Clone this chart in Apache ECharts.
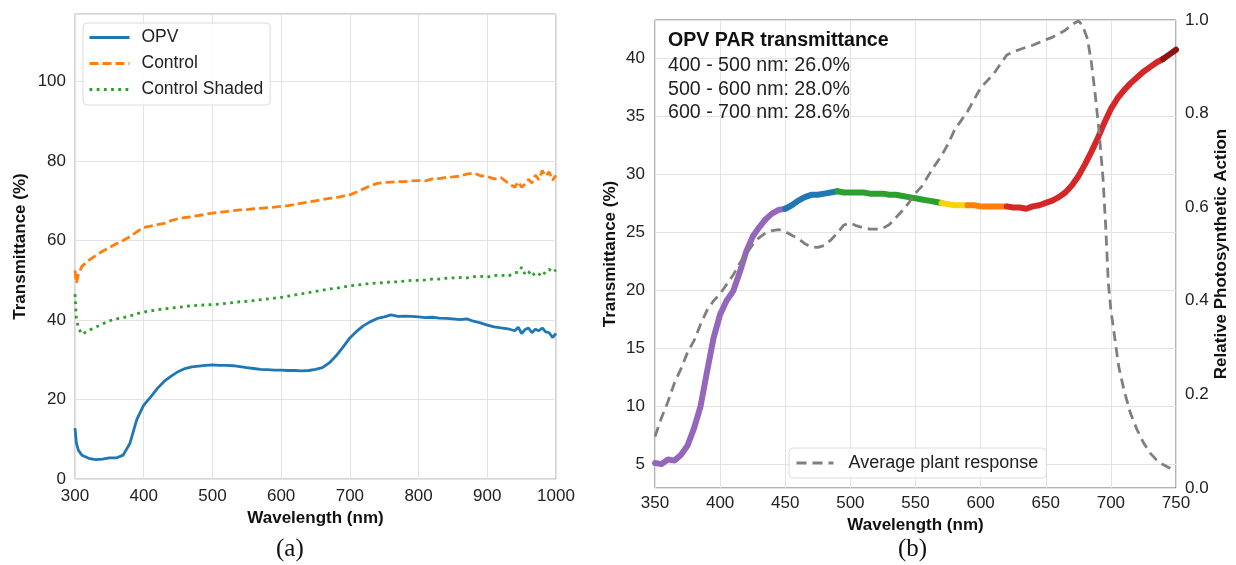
<!DOCTYPE html>
<html>
<head>
<meta charset="utf-8">
<script src="https://cdn.jsdelivr.net/npm/echarts@6/dist/echarts.min.js"></script>
<style>
  html, body { margin: 0; padding: 0; background: #fff; }
  #chart { width: 1236px; height: 565px; }
</style>
</head>
<body>
<div id="chart"></div>
<script>
// ---- (a) transmittance spectra, 300–1000 nm ----
const leftWl = [300, 302, 305, 310, 320, 330, 340, 350, 360, 370, 380, 390, 400, 410, 420, 430, 440, 450, 460, 470,
  480, 490, 500, 510, 520, 530, 540, 550, 560, 570, 580, 590, 600, 610, 620, 630, 640, 650, 660, 670,
  680, 690, 700, 710, 720, 730, 740, 750, 760, 770, 780, 790, 800, 810, 820, 830, 840, 850, 860, 870,
  880, 890, 900, 910, 920, 930, 940, 945, 950, 955, 960, 965, 970, 975, 980, 985, 990, 995, 1000];

const opvLeft = [12.8, 9.0, 7.2, 6.0, 5.2, 4.9, 5.0, 5.3, 5.3, 6.0, 9.0, 15.0, 18.6, 20.6, 22.8, 24.6, 25.9, 27.0, 27.8, 28.2,
  28.4, 28.6, 28.7, 28.6, 28.6, 28.5, 28.3, 28.0, 27.8, 27.6, 27.5, 27.4, 27.4, 27.3, 27.3, 27.2, 27.3, 27.6, 28.0, 29.2,
  31.0, 33.2, 35.5, 37.2, 38.6, 39.6, 40.4, 40.8, 41.3, 40.9, 41.0, 40.9, 40.8, 40.6, 40.7, 40.5, 40.4, 40.3, 40.1, 40.3,
  39.7, 39.3, 38.7, 38.3, 38.0, 37.8, 37.3, 38.2, 36.6, 37.6, 38.0, 36.8, 37.7, 37.3, 38.0, 37.0, 36.8, 35.6, 36.6];

const controlLeft = [52.5, 49.3, 51.5, 53.5, 55.0, 56.2, 57.3, 58.2, 59.2, 60.0, 61.0, 62.2, 63.3, 63.6, 64.0, 64.3, 65.0, 65.5, 65.8, 66.0,
  66.3, 66.6, 66.9, 67.1, 67.3, 67.5, 67.7, 67.8, 68.0, 68.1, 68.3, 68.4, 68.6, 68.8, 69.1, 69.4, 69.7, 70.0, 70.3, 70.6,
  70.8, 71.2, 71.5, 72.2, 73.0, 73.8, 74.4, 74.6, 74.7, 74.8, 74.8, 75.0, 75.1, 75.0, 75.5, 75.6, 75.9, 76.0, 76.2, 76.7,
  77.0, 76.3, 76.1, 75.5, 75.8, 74.5, 73.4, 74.8, 73.4, 74.2, 75.4, 74.5, 76.5, 75.3, 77.6, 76.2, 77.3, 75.2, 76.4];

const shadedLeft = [46.5, 40.5, 38.0, 36.4, 37.4, 38.2, 39.0, 39.8, 40.3, 40.6, 41.0, 41.6, 42.0, 42.3, 42.6, 42.8, 43.0, 43.2, 43.4, 43.6,
  43.7, 43.8, 43.9, 44.0, 44.2, 44.4, 44.6, 44.7, 44.9, 45.1, 45.3, 45.5, 45.7, 46.0, 46.3, 46.6, 46.9, 47.2, 47.5, 47.8,
  48.0, 48.3, 48.6, 48.8, 49.0, 49.2, 49.3, 49.4, 49.6, 49.6, 49.8, 50.0, 50.0, 50.1, 50.3, 50.3, 50.5, 50.6, 50.7, 50.6,
  50.9, 51.0, 50.8, 51.2, 51.3, 51.0, 51.9, 52.0, 53.3, 51.5, 52.2, 51.0, 52.0, 51.6, 51.0, 52.3, 52.8, 52.0, 52.6];

// ---- (b) OPV transmittance across PAR, 350–750 nm ----
const rightWl = [350, 355, 360, 365, 370, 375, 380, 385, 390, 395, 400, 405, 410, 415, 420, 425, 430, 435, 440, 445,
  450, 455, 460, 465, 470, 475, 480, 485, 490, 495, 500, 505, 510, 515, 520, 525, 530, 535, 540, 545,
  550, 555, 560, 565, 570, 575, 580, 585, 590, 595, 600, 605, 610, 615, 620, 625, 630, 635, 640, 645,
  650, 655, 660, 665, 670, 675, 680, 685, 690, 695, 700, 705, 710, 715, 720, 725, 730, 735, 740, 745, 750];

const opvRight = [5.1, 5.0, 5.4, 5.3, 5.8, 6.6, 8.1, 10.0, 13.0, 15.9, 17.9, 19.1, 19.9, 21.5, 23.3, 24.6, 25.4, 26.1, 26.6, 26.9,
  27.0, 27.3, 27.7, 28.0, 28.2, 28.2, 28.3, 28.4, 28.5, 28.4, 28.4, 28.4, 28.4, 28.3, 28.3, 28.3, 28.2, 28.2, 28.1, 28.0,
  27.9, 27.8, 27.7, 27.6, 27.5, 27.4, 27.3, 27.3, 27.3, 27.3, 27.2, 27.2, 27.2, 27.2, 27.2, 27.1, 27.1, 27.0, 27.2, 27.3,
  27.5, 27.7, 28.0, 28.4, 29.0, 29.8, 30.8, 31.9, 33.1, 34.4, 35.6, 36.5, 37.2, 37.8, 38.3, 38.8, 39.2, 39.6, 39.9, 40.3, 40.7];

// Average plant photosynthetic response (relative, right axis)
const plantWl = [350, 355, 360, 365, 370, 375, 380, 385, 390, 395, 400, 405, 410, 415, 420, 425, 430, 435, 440, 445,
  450, 455, 460, 465, 470, 475, 480, 485, 490, 495, 500, 505, 510, 515, 520, 525, 530, 535, 540, 545,
  550, 555, 560, 565, 570, 575, 580, 585, 590, 595, 600, 605, 610, 615, 620, 625, 630, 635, 640, 645,
  650, 655, 660, 665, 670, 675, 678, 682, 685, 688, 691, 694, 696, 698, 700, 703, 706, 710, 715, 720,
  725, 730, 735, 740, 745, 750];

const plantResponse = [0.11, 0.15, 0.185, 0.225, 0.255, 0.29, 0.315, 0.35, 0.38, 0.40, 0.415, 0.435, 0.455, 0.48, 0.50, 0.52, 0.535, 0.545, 0.55, 0.552,
  0.548, 0.54, 0.533, 0.522, 0.515, 0.514, 0.518, 0.53, 0.545, 0.562, 0.566, 0.56, 0.556, 0.553, 0.553, 0.555, 0.563, 0.578, 0.593, 0.61,
  0.63, 0.645, 0.668, 0.69, 0.71, 0.735, 0.765, 0.785, 0.805, 0.83, 0.855, 0.87, 0.885, 0.905, 0.925, 0.932, 0.937, 0.942, 0.946, 0.952,
  0.958, 0.963, 0.97, 0.978, 0.99, 0.998, 0.99, 0.96, 0.91, 0.84, 0.76, 0.66, 0.56, 0.44, 0.38, 0.32, 0.26, 0.21, 0.16, 0.125,
  0.097, 0.075, 0.06, 0.05, 0.043, 0.037];

// Colour bands along the OPV curve (nm)
const bandEdges = [350, 450, 490, 570, 590, 620, 740, 750];
const bandColors = ['#9467bd', '#1f77b4', '#2ca02c', '#f7d210', '#ff7f0e', '#d62728', '#8e1414'];

const parLines = ['400 - 500 nm: 26.0%', '500 - 600 nm: 28.0%', '600 - 700 nm: 28.6%'];

const FONT = "'Liberation Sans', Arial, sans-serif";
const pair = (xs, ys) => xs.map((x, i) => [x, ys[i]]);

const rightPts = pair(rightWl, opvRight);
const bandSeries = bandColors.map((c, k) => ({
  type: 'line',
  name: 'OPV band ' + k,
  xAxisIndex: 1, yAxisIndex: 1,
  data: rightPts.filter(p => p[0] >= bandEdges[k] && p[0] <= bandEdges[k + 1]),
  showSymbol: false, symbol: 'none',
  lineStyle: { color: c, width: 6, cap: 'round', join: 'round' },
  itemStyle: { color: c },
  z: 3, silent: true
}));

const tickLabel = { color: '#222', fontSize: 17, fontFamily: FONT };
const axisName = { color: '#111', fontSize: 17, fontWeight: 'bold', fontFamily: FONT };
const gridLine = { show: true, lineStyle: { color: '#e3e3e3', width: 1 } };
// legend keys show only the line, no marker
const keyMarker = { opacity: 0, color: 'transparent', borderWidth: 0 };

const chart = echarts.init(document.getElementById('chart'), null, { renderer: 'canvas' });
chart.setOption({
  animation: false,
  backgroundColor: '#fff',
  grid: [
    { left: 75, top: 14, width: 481, height: 465, show: true, borderColor: '#aaa', borderWidth: 1, backgroundColor: 'transparent' },
    { left: 655, top: 20, width: 521, height: 468, show: true, borderColor: '#666', borderWidth: 1, backgroundColor: 'transparent' }
  ],
  xAxis: [
    { type: 'value', gridIndex: 0, min: 300, max: 1000, interval: 100,
      name: 'Wavelength (nm)', nameLocation: 'middle', nameGap: 31, nameTextStyle: axisName,
      axisLine: { show: false }, axisTick: { show: false },
      axisLabel: Object.assign({ margin: 9, formatter: v => String(v) }, tickLabel), splitLine: gridLine },
    { type: 'value', gridIndex: 1, min: 350, max: 750, interval: 50,
      name: 'Wavelength (nm)', nameLocation: 'middle', nameGap: 28, nameTextStyle: axisName,
      axisLine: { show: false }, axisTick: { show: false },
      axisLabel: Object.assign({ margin: 7, formatter: v => String(v) }, tickLabel), splitLine: gridLine }
  ],
  yAxis: [
    { type: 'value', gridIndex: 0, min: 0, max: 117, splitNumber: 6,
      name: 'Transmittance (%)', nameLocation: 'middle', nameGap: 46, nameTextStyle: axisName,
      axisLine: { show: false }, axisTick: { show: false },
      axisLabel: Object.assign({ margin: 9, showMaxLabel: false,
        formatter: v => (Math.abs(v % 20) < 1e-6 ? String(v) : '') }, tickLabel),
      splitLine: gridLine },
    { type: 'value', gridIndex: 1, min: 2.94, max: 43.26, splitNumber: 8,
      name: 'Transmittance (%)', nameLocation: 'middle', nameGap: 36, nameTextStyle: axisName,
      axisLine: { show: false }, axisTick: { show: false },
      axisLabel: Object.assign({ margin: 10, showMinLabel: false, showMaxLabel: false,
        formatter: v => (Math.abs(v % 5) < 1e-6 ? String(v) : '') }, tickLabel),
      splitLine: gridLine },
    { type: 'value', gridIndex: 1, position: 'right', min: 0, max: 1, interval: 0.2,
      name: 'Relative Photosynthetic Action', nameLocation: 'middle', nameGap: 37, nameTextStyle: axisName,
      axisLine: { show: false }, axisTick: { show: false },
      axisLabel: Object.assign({ margin: 9, formatter: v => v.toFixed(1) }, tickLabel),
      splitLine: { show: false } }
  ],
  legend: [
    { data: ['OPV', 'Control', 'Control Shaded'], orient: 'vertical', left: 83, top: 23,
      padding: [5, 7, 6, 5], itemGap: 7, itemWidth: 40, itemHeight: 14, itemStyle: keyMarker,
      lineStyle: { width: 3 },
      backgroundColor: 'rgba(255,255,255,0.85)', borderColor: '#dcdcdc', borderWidth: 1, borderRadius: 4,
      textStyle: { color: '#222', fontSize: 17.5, fontFamily: FONT, lineHeight: 19, padding: [0, 0, 0, 7] } },
    { data: ['Average plant response'], orient: 'horizontal', left: 789, top: 448,
      padding: [5, 8, 5, 6], itemWidth: 37, itemHeight: 14, itemStyle: keyMarker,
      lineStyle: { width: 3 },
      backgroundColor: 'rgba(255,255,255,0.85)', borderColor: '#dcdcdc', borderWidth: 1, borderRadius: 4,
      textStyle: { color: '#222', fontSize: 18, fontFamily: FONT, lineHeight: 20, padding: [0, 0, 0, 10] } }
  ],
  graphic: [
    { type: 'text', left: 668, top: 31, z: 10, style: { text: 'OPV PAR transmittance', fill: '#111',
        font: "bold 19.6px 'Liberation Sans', Arial, sans-serif" } },
    { type: 'text', left: 668, top: 54, z: 10, style: { text: parLines.join('\n'), fill: '#222', lineHeight: 23.5,
        font: "19.6px 'Liberation Sans', Arial, sans-serif" } },
    { type: 'text', left: 276, top: 537, style: { text: '(a)', fill: '#111',
        font: "25px 'Liberation Serif', 'Times New Roman', serif" } },
    { type: 'text', left: 898, top: 537, style: { text: '(b)', fill: '#111',
        font: "25px 'Liberation Serif', 'Times New Roman', serif" } }
  ],
  series: [
    { type: 'line', name: 'OPV', xAxisIndex: 0, yAxisIndex: 0, data: pair(leftWl, opvLeft),
      showSymbol: false, symbol: 'none', lineStyle: { color: '#1f77b4', width: 2.8 }, itemStyle: { color: '#1f77b4' }, z: 4 },
    { type: 'line', name: 'Control', xAxisIndex: 0, yAxisIndex: 0, data: pair(leftWl, controlLeft),
      showSymbol: false, symbol: 'none', lineStyle: { color: '#ff7f0e', width: 2.8, type: [9, 4] }, itemStyle: { color: '#ff7f0e' }, z: 3 },
    { type: 'line', name: 'Control Shaded', xAxisIndex: 0, yAxisIndex: 0, data: pair(leftWl, shadedLeft),
      showSymbol: false, symbol: 'none', lineStyle: { color: '#2ca02c', width: 2.8, type: [2.8, 4.4] }, itemStyle: { color: '#2ca02c' }, z: 3 },
    ...bandSeries,
    { type: 'line', name: 'Average plant response', xAxisIndex: 1, yAxisIndex: 2, data: pair(plantWl, plantResponse),
      showSymbol: false, symbol: 'none', lineStyle: { color: '#7f7f7f', width: 2.8, type: [10, 6] }, itemStyle: { color: '#7f7f7f' }, z: 5 }
  ]
});
</script>
</body>
</html>
